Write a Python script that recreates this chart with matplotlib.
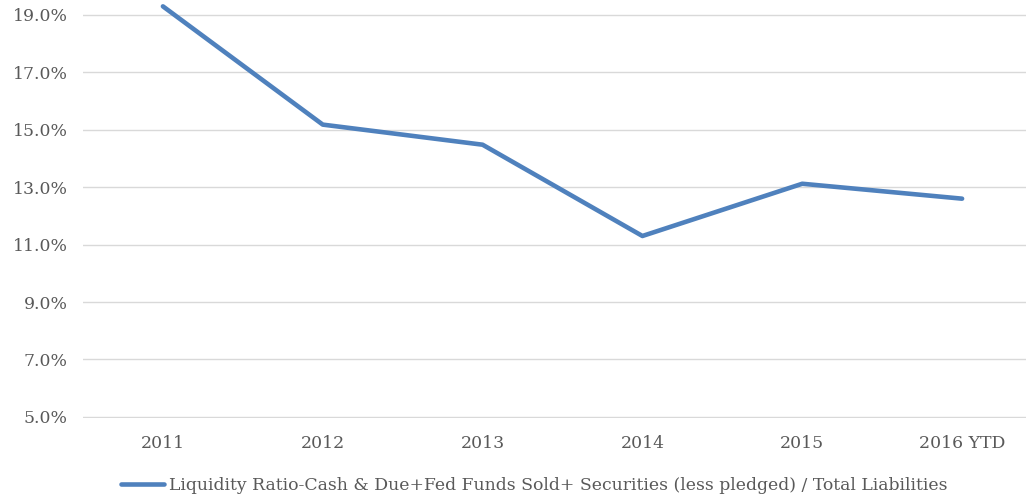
import matplotlib.pyplot as plt
from matplotlib.ticker import FuncFormatter

# data
years = ["2011", "2012", "2013", "2014", "2015", "2016 YTD"]
liquidity = [19.3, 15.18, 14.48, 11.3, 13.12, 12.6]
yticks = [5, 7, 9, 11, 13, 15, 17, 19]
label = "Liquidity Ratio-Cash & Due+Fed Funds Sold+ Securities (less pledged) / Total Liabilities"

plt.rcParams["font.family"] = ["DejaVu Serif"]
txt = "#595959"

fig = plt.figure(figsize=(10.26, 4.97), dpi=100)
ax = fig.add_axes([0.0809, 0.159, 0.9347, 0.834])

x = range(len(years))
ax.plot(x, liquidity, color="#4F81BD", lw=3.3, solid_capstyle="round", label=label, clip_on=False, zorder=3)

ax.set_xlim(-0.5, len(years) - 0.5)
ax.set_ylim(4.96, 19.4)
ax.set_yticks(yticks)
ax.yaxis.set_major_formatter(FuncFormatter(lambda v, p: "%.1f%%" % v))
ax.set_xticks(list(x))
ax.set_xticklabels(years)
ax.grid(axis="y", color="#D9D9D9", lw=1.0)
ax.set_axisbelow(True)
for s in ax.spines.values():
    s.set_visible(False)
ax.tick_params(length=0, labelsize=12.4, colors=txt)
ax.tick_params(axis="x", pad=12)
ax.tick_params(axis="y", pad=11)

fig.legend(loc="center", bbox_to_anchor=(0.521, 0.024), frameon=False, fontsize=12.4,
           labelcolor=txt, handlelength=2.5, handletextpad=0.3)

fig.savefig("out.png", dpi=100)
